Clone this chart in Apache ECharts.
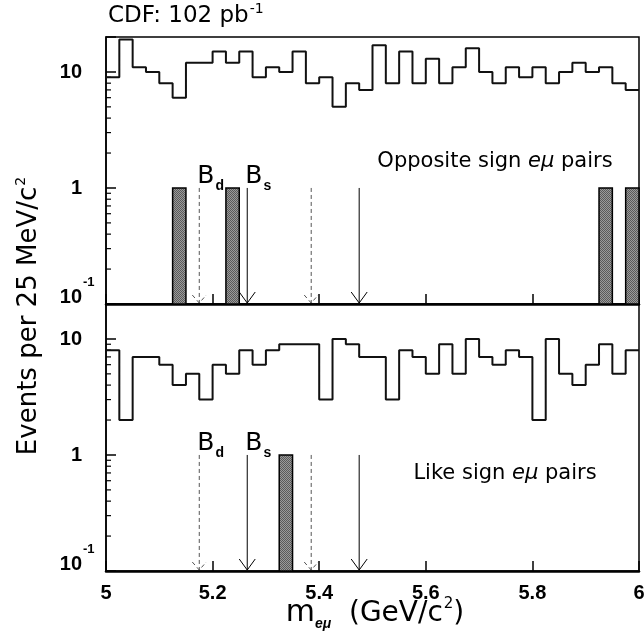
<!DOCTYPE html>
<html><head><meta charset="utf-8">
<script src="https://cdn.jsdelivr.net/npm/echarts@6/dist/echarts.min.js"></script>
<style>html,body{margin:0;padding:0;background:#fff}#c{width:644px;height:637px}</style>
</head><body><div id="c"></div>
<script>
// ---- data ----
const binLowEdges = [5.000,5.025,5.050,5.075,5.100,5.125,5.150,5.175,5.200,5.225,
                     5.250,5.275,5.300,5.325,5.350,5.375,5.400,5.425,5.450,5.475,
                     5.500,5.525,5.550,5.575,5.600,5.625,5.650,5.675,5.700,5.725,
                     5.750,5.775,5.800,5.825,5.850,5.875,5.900,5.925,5.950,5.975];
const binUpperEdge = 6.0;
const binWidth = 0.025;
const oppositeSignCounts = [9,19,11,10,8,6,12,12,15,12,15,9,11,10,15,8,9,5,8,7,
                            17,8,15,8,13,8,11,16,10,8,11,9,11,8,10,12,10,11,8,7];
const likeSignCounts = [8,2,7,7,6,4,5,3,6,5,8,6,8,9,9,9,3,10,9,7,
                        7,3,8,7,5,9,5,10,7,6,8,7,2,10,5,4,6,9,5,8];
const oppositeSignSignalBins = [5.125, 5.225, 5.925, 5.975];
const oppositeSignSignalCounts = [1, 1, 1, 1];
const likeSignSignalBins = [5.325];
const likeSignSignalCounts = [1];
const bdWindow = [5.175, 5.385];   // dashed arrows
const bsWindow = [5.265, 5.475];   // solid arrows
const arrowTopValue = 1;
const yMin = 0.1, yMax = 20;
const xMin = 5, xMax = 6, xInterval = 0.2;
const yMajorTickValues = [0.1, 1, 10];
const yMajorTickMantissa = ['10', '1', '10'];
const yMajorTickExponent = ['-1', '', ''];
const yMinorTicks = [0.2,0.3,0.4,0.5,0.6,0.7,0.8,0.9,2,3,4,5,6,7,8,9];

// ---- helpers ----
function stepPoints(counts){
  const pts = binLowEdges.map((x,i)=>[x, counts[i]]);
  pts.push([binUpperEdge, counts[counts.length-1]]);
  return pts;
}
const pc = document.createElement('canvas'); pc.width = 2; pc.height = 2;
const pctx = pc.getContext('2d');
pctx.fillStyle = '#9a9a9a'; pctx.fillRect(0,0,2,2);
pctx.fillStyle = '#5a5a5a'; pctx.fillRect(0,0,1,1); pctx.fillRect(1,1,1,1);
const hatch = {image: pc, repeat: 'repeat'};

const NUM = 'Liberation Sans';
const TXT = 'DejaVu Sans';

function yAxis(g){
  return {
    type:'log', logBase:10, min:yMin, max:yMax, gridIndex:g,
    axisLine:{show:true, lineStyle:{color:'#000', width:1.5}},
    axisTick:{show:true, inside:true, length:10, lineStyle:{color:'#000', width:1.5}},
    splitLine:{show:false},
    axisLabel:{show:false}
  };
}
function xAxis(g, showLabels){
  return {
    type:'value', min:xMin, max:xMax, interval:xInterval, gridIndex:g,
    axisLine:{show:true, onZero:false, lineStyle:{color:'#000', width:2.5}},
    axisTick:{show:true, inside:true, length:10, lineStyle:{color:'#000', width:1.5}},
    splitLine:{show:false},
    axisLabel:{show:showLabels, margin:12, color:'#000', fontFamily:NUM, fontWeight:'bold', fontSize:20}
  };
}
function yLabelSeries(g){
  return {
    type:'custom', xAxisIndex:g, yAxisIndex:g, silent:true, clip:false,
    data: yMajorTickValues.map((v,i)=>[xMin, v, i]),
    renderItem:function(params, api){
      const i = api.value(2);
      const p = api.coord([api.value(0), api.value(1)]);
      const man = yMajorTickMantissa[i], ex = yMajorTickExponent[i];
      const font = 'bold 20px "' + NUM + '"';
      const children = [];
      if (ex) {
        children.push({type:'text', x:p[0]-24, y:p[1]+3, style:{text:man, font:font, fill:'#000', align:'right', verticalAlign:'bottom'}});
        children.push({type:'text', x:p[0]-23, y:p[1]-22, style:{text:ex, font:'bold 13px "' + NUM + '"', fill:'#000', align:'left', verticalAlign:'middle'}});
      } else {
        children.push({type:'text', x:p[0]-24, y:p[1]+1, style:{text:man, font:font, fill:'#000', align:'right', verticalAlign:'middle'}});
      }
      return {type:'group', children:children};
    }
  };
}
function minorTickSeries(g){
  return {
    type:'custom', xAxisIndex:g, yAxisIndex:g, silent:true, clip:false,
    data: yMinorTicks.map(v=>[xMin, v]),
    renderItem:function(params, api){
      const p = api.coord([api.value(0), api.value(1)]);
      return {type:'line', shape:{x1:p[0], y1:p[1], x2:p[0]+5, y2:p[1]},
              style:{stroke:'#000', lineWidth:1.2}};
    }
  };
}
function signalSeries(g, bins, counts){
  return {
    type:'custom', xAxisIndex:g, yAxisIndex:g, silent:true,
    data: bins.map((b,i)=>[b, counts[i]]),
    renderItem:function(params, api){
      const x = api.value(0), c = api.value(1);
      const p0 = api.coord([x, yMin]);
      const p1 = api.coord([x+binWidth, c]);
      return {type:'rect', shape:{x:p0[0], y:p1[1], width:p1[0]-p0[0], height:p0[1]-p1[1]},
              style:{fill:hatch, stroke:'#000', lineWidth:1.5}};
    }
  };
}
function arrowSeries(g){
  const data = [
    [bdWindow[0], arrowTopValue, 0, 'd'],
    [bdWindow[1], arrowTopValue, 0, ''],
    [bsWindow[0], arrowTopValue, 1, 's'],
    [bsWindow[1], arrowTopValue, 1, '']
  ];
  return {
    type:'custom', xAxisIndex:g, yAxisIndex:g, silent:true, clip:false,
    data: data,
    renderItem:function(params, api){
      const m = api.value(0), top = api.value(1), solid = api.value(2) === 1;
      const sub = data[params.dataIndex][3];
      const p0 = api.coord([m, top]);
      const p1 = api.coord([m, yMin]);
      const st = solid ? {stroke:'#000', lineWidth:1} : {stroke:'#555', lineWidth:1, lineDash:[4,3]};
      const hw = solid ? 8 : 7, hh = solid ? 12 : 9;
      const children = [
        {type:'line', shape:{x1:p0[0], y1:p0[1], x2:p1[0], y2:p1[1]-1}, style:st},
        {type:'polyline', shape:{points:[[p1[0]-hw, p1[1]-hh],[p1[0], p1[1]-1],[p1[0]+hw, p1[1]-hh]]}, style:Object.assign({fill:null}, st)}
      ];
      if (sub) {
        children.push({type:'text', x:p0[0]-2, y:p0[1]+1,
          style:{text:'{b|B}{s|'+sub+'}', align:'left', verticalAlign:'bottom',
            rich:{b:{fontFamily:TXT, fontSize:25, fill:'#000', lineHeight:28, verticalAlign:'bottom'},
                  s:{fontFamily:NUM, fontWeight:'bold', fontSize:14, fill:'#000', lineHeight:28, verticalAlign:'bottom', padding:[0,0,-4,1]}}}});
      }
      return {type:'group', children:children};
    }
  };
}
function histSeries(g, counts){
  return {type:'line', xAxisIndex:g, yAxisIndex:g, step:'end', data:stepPoints(counts),
          symbol:'none', silent:true, lineStyle:{color:'#111', width:2}, z:3};
}

const chart = echarts.init(document.getElementById('c'), null, {renderer:'canvas'});
chart.setOption({
  animation:false,
  backgroundColor:'#fff',
  grid:[
    {left:106, top:37, width:533, height:267, show:true, borderColor:'#000', borderWidth:1.5, backgroundColor:'transparent', outerBoundsMode:'none', containLabel:false},
    {left:106, top:304, width:533, height:267, show:true, borderColor:'#000', borderWidth:1.5, backgroundColor:'transparent', outerBoundsMode:'none', containLabel:false}
  ],
  xAxis:[xAxis(0,false), xAxis(1,true)],
  yAxis:[yAxis(0), yAxis(1)],
  series:[
    histSeries(0, oppositeSignCounts),
    histSeries(1, likeSignCounts),
    signalSeries(0, oppositeSignSignalBins, oppositeSignSignalCounts),
    signalSeries(1, likeSignSignalBins, likeSignSignalCounts),
    arrowSeries(0), arrowSeries(1),
    minorTickSeries(0), minorTickSeries(1),
    yLabelSeries(0), yLabelSeries(1)
  ],
  graphic:[
    {type:'text', left:108, top:2, style:{text:'{a|CDF: 102 pb}{s|-1}',
      rich:{a:{fontFamily:TXT, fontSize:23, fill:'#000', lineHeight:30, verticalAlign:'bottom'},
            s:{fontFamily:TXT, fontSize:14, fill:'#000', lineHeight:30, verticalAlign:'bottom', padding:[0,0,12,1]}}}},
    {type:'text', x:495, y:162, style:{text:'{a|Opposite sign }{i|eμ}{a| pairs}', align:'center', verticalAlign:'middle',
      rich:{a:{fontFamily:TXT, fontSize:21, fill:'#000'}, i:{fontFamily:TXT, fontSize:21, fontStyle:'italic', fill:'#000'}}}},
    {type:'text', x:505, y:474, style:{text:'{a|Like sign }{i|eμ}{a| pairs}', align:'center', verticalAlign:'middle',
      rich:{a:{fontFamily:TXT, fontSize:21, fill:'#000'}, i:{fontFamily:TXT, fontSize:21, fontStyle:'italic', fill:'#000'}}}},
    {type:'text', x:375, y:610, style:{text:'{m|m}{u|eμ}{a|  (GeV/c}{s|2}{a|)}', align:'center', verticalAlign:'middle',
      rich:{m:{fontFamily:TXT, fontSize:30, fill:'#000', lineHeight:36, verticalAlign:'bottom'},
            u:{fontFamily:NUM, fontSize:14, fontWeight:'bold', fontStyle:'italic', fill:'#000', lineHeight:36, verticalAlign:'bottom', padding:[0,0,-3,0]},
            a:{fontFamily:TXT, fontSize:28, fill:'#000', lineHeight:36, verticalAlign:'bottom'},
            s:{fontFamily:TXT, fontSize:15, fill:'#000', lineHeight:36, verticalAlign:'bottom', padding:[0,0,16,1]}}}},
    {type:'text', x:26, y:316, rotation:Math.PI/2, style:{text:'{a|Events per 25 MeV/c}{s|2}', align:'center', verticalAlign:'middle',
      rich:{a:{fontFamily:TXT, fontSize:26, fill:'#000', lineHeight:32, verticalAlign:'bottom'},
            s:{fontFamily:TXT, fontSize:14, fill:'#000', lineHeight:32, verticalAlign:'bottom', padding:[0,0,14,1]}}}}
  ]
});
</script></body></html>
